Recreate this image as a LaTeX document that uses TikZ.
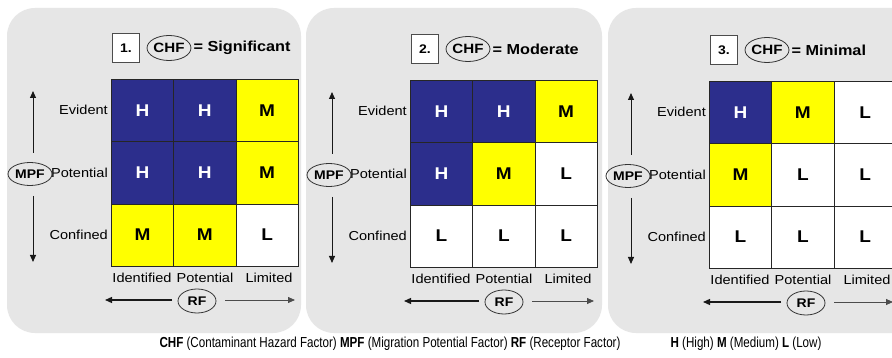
\documentclass[tikz,border=0pt]{standalone}
\usepackage{fontspec}
\setmainfont{Liberation Sans}[FakeStretch=1.12]
\newfontfamily\narrowfont{Liberation Sans}[FakeStretch=0.8]
\usetikzlibrary{arrows.meta,shapes.geometric}
\definecolor{hblue}{RGB}{44,46,140}
\definecolor{myellow}{RGB}{255,255,0}
\definecolor{panelgray}{RGB}{230,230,230}
\def\fillH{hblue}\def\fillM{myellow}\def\fillL{white}
\def\txtH{white}\def\txtM{black}\def\txtL{black}
\tikzset{
  panelbg/.style={fill=panelgray, draw=none, rounded corners=28pt},
  cell/.style={draw=black!85, line width=0.8pt, minimum width=62.3pt, minimum height=62.3pt,
    inner sep=0pt, anchor=north west, font=\fontsize{17}{17}\selectfont\bfseries},
  rowlab/.style={anchor=east, inner sep=1pt, font=\fontsize{13}{13}\selectfont},
  collab/.style={inner sep=0pt, font=\fontsize{13}{13}\selectfont},
  numbox/.style={draw=black!70, fill=white, line width=0.7pt, minimum width=27pt,
    minimum height=29pt, inner sep=0pt, font=\fontsize{12.5}{12}\selectfont\bfseries},
  oval/.style={ellipse, draw=black!80, line width=0.8pt, inner sep=0pt},
  titletext/.style={inner sep=0pt, font=\fontsize{14.5}{15}\selectfont\bfseries},
  tip/.style={-{Triangle[length=7pt,width=6pt]}},
  varrow/.style={draw=black!90, line width=1pt, tip},
  harrowL/.style={draw=black!90, line width=1.2pt, tip},
  harrowR/.style={draw=black!70, line width=0.8pt, tip},
  legend/.style={inner sep=0pt, font=\narrowfont\fontsize{14.5}{15}\selectfont}
}
\newcommand\riskpanel[6]{%
\begin{scope}[shift={#2}, name prefix=#1-]
  \node[numbox] (num) at (15,-31) {#3};
  \node[oval, minimum width=38pt, minimum height=25pt, font=\fontsize{13.5}{14}\selectfont\bfseries] (chf) at (58,-31) {CHF};
  \node[titletext, anchor=west] (title) at ([xshift=2pt]chf.east) {= #4};
  \foreach \lt [count=\i from 0] in {#5}{
    \pgfmathtruncatemacro\cc{mod(\i,3)}
    \pgfmathtruncatemacro\rr{div(\i,3)}
    \node[cell, fill=\csname fill\lt\endcsname, text=\csname txt\lt\endcsname] (c\i) at (\cc*62.3, \rr*62.3) {\lt};
  }
  \node[rowlab] (r1) at (-2,31) {Evident};
  \node[rowlab] (r2) at (-2,94) {Potential};
  \node[rowlab] (r3) at (-2,156) {Confined};
  \node[oval, minimum width=44pt, minimum height=23pt, font=\fontsize{12.5}{13}\selectfont\bfseries] (mpf) at (-81,95) {MPF};
  \coordinate (va1) at (-78,74);
  \coordinate (va2) at (-78,12);
  \coordinate (vb1) at (-78,117);
  \coordinate (vb2) at (-78,183);
  \draw[varrow] (va1) -- (va2);
  \draw[varrow] (vb1) -- (vb2);
  \node[collab] (l1) at (31,199) {Identified};
  \node[collab] (l2) at (94,199) {Potential};
  \node[collab] (l3) at (158,199) {Limited};
  \node[oval, minimum width=38pt, minimum height=24pt, font=\fontsize{12.5}{13}\selectfont\bfseries] (rf) at (#6,222) {RF};
  \coordinate (ha1) at ({#6-25},221);
  \coordinate (ha2) at (-6,221);
  \coordinate (hb1) at ({#6+28},221);
  \coordinate (hb2) at (184,221);
  \draw[harrowL] (ha1) -- (ha2);
  \draw[harrowR] (hb1) -- (hb2);
\end{scope}}
\begin{document}
\begin{tikzpicture}[x=1pt, y=-1pt]
  \useasboundingbox (0,0) rectangle (892,358);
  \clip (0,0) rectangle (892,358);
  \fill[white] (0,0) rectangle (892,358);
  \fill[panelbg] (7,8) rectangle (301,333);
  \fill[panelbg] (306,8) rectangle (602,333);
  \fill[panelbg] (608,8) rectangle (930,333);
  \riskpanel{p1}{(111,79)}{1.}{Significant}{H,H,M,H,H,M,M,M,L}{86}
  \riskpanel{p2}{(410,80)}{2.}{Moderate}{H,H,M,H,M,L,L,L,L}{94}
  \riskpanel{p3}{(709,81)}{3.}{Minimal}{H,M,L,M,L,L,L,L,L}{97}
  \node[legend] (leg1) at (390,344) {\bfseries CHF\mdseries{} (Contaminant Hazard Factor) \bfseries MPF\mdseries{} (Migration Potential Factor) \bfseries RF\mdseries{} (Receptor Factor)};
  \node[legend] (leg2) at (746,344) {\bfseries H\mdseries{} (High) \bfseries M\mdseries{} (Medium) \bfseries L\mdseries{} (Low)};
\end{tikzpicture}
\end{document}
